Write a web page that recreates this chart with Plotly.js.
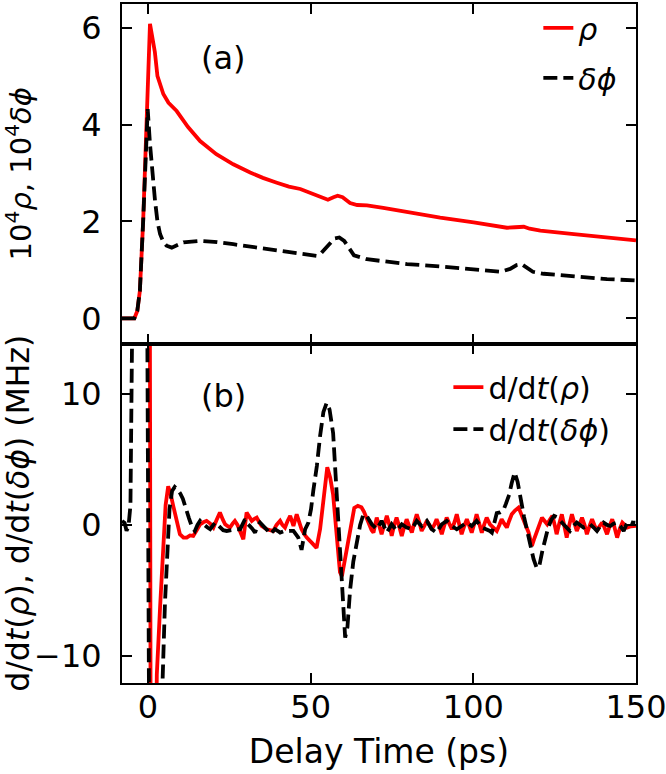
<!DOCTYPE html>
<html>
<head>
<meta charset="utf-8">
<script src="https://cdn.plot.ly/plotly-3.0.1.min.js"></script>
<style>
  body { margin: 0; background: #fff; }
  #myDiv { width: 666px; height: 774px; }
</style>
</head>
<body>
<div id="myDiv"></div>
<script>
// (a) rho and delta-phi, x10^4
let tRho = [-8, -4.2, -3.3, -2.5, -1.5, -0.5, 0.1, 0.6, 1.2, 2.1,
  2.9, 3.7, 4.7, 6.3, 8.8, 12.3, 16, 21, 26.2, 31.4,
  35.3, 39.6, 43.3, 46.8, 50.3, 53.9, 55.3, 57, 58.3, 59.8,
  62.1, 64.3, 67.3, 72.3, 79.6, 89.8, 100.1, 105.3, 110.3, 112.8,
  115.5, 117.3, 120.6, 130.9, 141.1, 150];
let rho = [0, 0, 0.15, 0.57, 2.0, 3.8, 5.2, 6.08, 5.85, 5.5,
  5.0, 4.84, 4.63, 4.45, 4.28, 3.95, 3.66, 3.39, 3.18, 3.01,
  2.9, 2.8, 2.72, 2.67, 2.58, 2.48, 2.45, 2.5, 2.53, 2.5,
  2.38, 2.34, 2.33, 2.28, 2.19, 2.08, 1.98, 1.93, 1.87, 1.88,
  1.89, 1.85, 1.81, 1.74, 1.66, 1.61];

let tPhi = [-8, -4.2, -3.3, -2.5, -1.5, -0.6, -0.1, 0.6, 1.3, 2.15,
  2.9, 3.7, 4.7, 5.7, 7.3, 8.8, 10.9, 16, 20.3, 26.2,
  31.3, 36.5, 41.3, 46.8, 51.9, 53.3, 55.3, 57.3, 58.8, 60.3,
  61.8, 63.3, 67.3, 72.3, 79.6, 89.8, 99.3, 104.3, 108.3, 111.3,
  113.3, 114.8, 116.3, 118.3, 121.6, 130.9, 141.1, 150];
let phi = [0, 0, 0.15, 0.57, 2.0, 3.6, 4.32, 3.6, 3.0, 2.43,
  2.0, 1.74, 1.58, 1.5, 1.46, 1.5, 1.57, 1.6, 1.58, 1.53,
  1.48, 1.43, 1.38, 1.33, 1.29, 1.35, 1.5, 1.65, 1.67, 1.6,
  1.45, 1.3, 1.22, 1.18, 1.12, 1.07, 1.02, 1.0, 0.96, 1.02,
  1.1, 1.12, 1.06, 0.96, 0.92, 0.86, 0.81, 0.78];

// (b) time derivatives (MHz)
let tdRho = [0.4, 0.9, 2.0, 2.7, 3.7, 4.7, 5.4, 6.2, 7.0, 7.8,
  8.8, 9.8, 10.9, 11.9, 12.9, 13.9, 15.0, 16.0, 17.0, 18.0,
  19.1, 20.1, 21.1, 22.1, 23.0, 23.7, 24.5, 25.2, 26.0, 26.7,
  27.5, 28.3, 29.3, 30.3, 31.1, 31.9, 32.6, 33.4, 34.2, 34.9,
  35.7, 36.5, 37.5, 38.5, 39.5, 40.6, 41.3, 42.1, 42.9, 43.7,
  44.7, 45.7, 46.5, 47.2, 48.0, 48.8, 50.3, 51.8, 52.9, 54.0,
  55.1, 56.0, 56.9, 58.0, 59.0, 59.6, 60.5, 61.3, 62.3, 63.4,
  64.5, 65.6, 66.4, 67.2, 68.0, 68.7, 69.3, 70.3, 71.0, 71.8,
  72.6, 73.4, 74.2, 74.9, 75.7, 76.4, 77.2, 78.0, 78.8, 79.5,
  80.3, 81.1, 81.9, 82.6, 83.4, 84.1, 84.9, 85.7, 86.5, 87.2,
  88.0, 88.7, 89.5, 90.3, 91.0, 91.8, 92.6, 93.4, 94.2, 94.9,
  95.7, 96.4, 97.2, 98.0, 98.8, 99.5, 100.3, 101.0, 101.8, 102.6,
  103.3, 104.1, 105.1, 106.2, 107.2, 108.0, 108.7, 109.5, 110.3, 111.0,
  111.8, 112.8, 113.9, 114.6, 115.4, 116.2, 117.0, 118.0, 118.8, 119.6,
  120.3, 121.1, 121.9, 122.7, 123.5, 124.3, 125.0, 125.6, 126.4, 127.2,
  127.9, 128.7, 129.5, 130.3, 131.0, 131.8, 132.6, 133.4, 134.2, 134.9,
  135.7, 136.5, 137.2, 138.0, 138.8, 139.6, 140.3, 141.1, 141.9, 142.7,
  143.4, 144.2, 145.0, 145.8, 146.5, 147.3, 148.5, 150.0];
let dRho = [40, -30, -30, -11.4, -6.3, -1.2, 1.5, 2.95, 2.3, 1.4,
  0.3, -0.71, -0.97, -0.97, -0.8, -0.84, -0.4, 0.05, 0.2, 0.31,
  0.1, -0.2, 0.4, 0.94, 0.4, 0.05, -0.1, -0.2, 0.1, 0.31,
  0.0, -0.46, -1.09, 0.94, 0.6, 0.31, 0.45, 0.56, 0.2, -0.08,
  -0.2, -0.33, -0.4, -0.46, 0.0, 0.31, 0.0, -0.2, 0.3, 0.69,
  -0.08, 0.81, 0.2, -0.33, -0.7, -0.97, -1.35, -1.75, -0.3, 2.3,
  4.4, 3.6, 2.3, -0.8, -3.6, -3.9, -2.6, -1.6, -0.2, 1.3,
  1.45, 1.35, 1.0, 0.5, 0.0, -0.4, -0.59, 0.56, 0.0, -0.71,
  0.0, 0.69, 0.0, -0.84, 0.0, 0.56, -0.1, -0.84, -0.1, 0.43,
  -0.1, -0.59, 0.2, 0.81, 0.2, -0.46, -0.1, 0.31, 0.0, -0.33,
  0.0, 0.43, -0.1, -0.71, -0.1, 0.56, 0.1, -0.33, 0.2, 0.81,
  0.0, -0.71, -0.1, 0.43, -0.1, -0.59, 0.1, 0.81, 0.1, -0.59,
  0.0, 0.56, 0.05, -0.2, -0.46, 0.0, 0.43, 0.1, -0.2, 0.3,
  0.81, 1.1, 1.32, 0.9, 0.31, -0.1, -0.59, -1.6, -1.0, -0.46,
  0.1, 0.56, 0.3, 0.05, 0.4, 0.69, 0.0, -0.71, 0.1, 0.81,
  0.0, -0.97, 0.0, 0.81, 0.2, -0.46, 0.0, 0.56, 0.0, -0.71,
  -0.1, 0.43, 0.0, -0.46, -0.1, 0.18, -0.2, -0.71, -0.1, 0.43,
  -0.2, -0.97, -0.3, 0.18, 0.0, -0.2, -0.1, -0.08];

let tdPhi = [-8, -7.2, -6.6, -6.0, -5.4, -4.8, -4.3, -0.5, 0.6, 3.8,
  4.4, 5.2, 5.9, 6.6, 7.4, 8.2, 9.0, 9.9, 10.7, 11.6,
  12.6, 13.6, 14.4, 15.2, 16.0, 16.8, 17.5, 18.3, 19.1, 19.9,
  20.6, 21.4, 22.1, 23.1, 24.2, 25.2, 26.2, 27.2, 28.3, 29.0,
  29.8, 30.6, 31.4, 32.1, 32.9, 33.6, 34.4, 35.2, 36.0, 36.8,
  37.5, 38.3, 39.0, 39.8, 40.6, 41.6, 42.6, 43.6, 44.7, 45.5,
  46.2, 47.2, 48.3, 49.3, 50.1, 50.8, 51.9, 52.9, 53.9, 54.9,
  55.8, 56.9, 58.0, 59.0, 59.8, 60.6, 61.3, 62.1, 63.1, 64.2,
  65.2, 66.2, 67.2, 68.8, 70.3, 71.8, 73.4, 74.9, 76.4, 78.0,
  79.5, 81.1, 82.6, 84.1, 85.7, 87.2, 88.7, 90.3, 91.8, 93.4,
  94.9, 96.4, 98.0, 99.5, 101.0, 102.6, 104.1, 105.1, 105.7, 106.5,
  107.2, 108.2, 109.2, 110.0, 111.0, 111.8, 112.7, 113.6, 114.7, 115.6,
  116.6, 117.5, 118.5, 119.5, 120.3, 121.2, 122.1, 123.0, 124.0, 124.8,
  125.6, 126.6, 127.7, 128.7, 129.7, 130.7, 131.8, 132.8, 133.9, 134.9,
  135.9, 137.0, 138.0, 139.0, 140.0, 141.1, 142.1, 143.1, 144.1, 145.2,
  146.2, 147.0, 147.7, 148.7, 149.8];
let dPhi = [0.3, 0.15, -0.45, -0.1, 1.5, 8, 30, 30, -30, -30,
  -12.5, -6, -1.5, 1.2, 2.6, 2.9, 2.7, 2.4, 2.0, 1.2,
  0.5, -0.2, -0.46, 0.0, 0.31, 0.1, -0.08, -0.2, -0.33, 0.0,
  0.18, 0.0, -0.2, -0.4, -0.46, -0.4, -0.33, -0.33, -0.33, 0.0,
  0.43, 0.1, -0.08, -0.3, -0.59, -0.1, 0.18, 0.0, -0.2, -0.45,
  -0.71, -0.5, -0.33, -0.45, -0.59, -0.5, -0.46, -0.46, -0.46, -0.7,
  -0.97, -1.9, -0.33, 0.18, 1.2, 2.6, 4.5, 6.8, 8.6, 9.3,
  8.8, 7.0, 2.0, -2.5, -6.0, -8.6, -7.8, -5.0, -2.8, -1.2,
  0.0, 0.8, 0.69, 0.05, -0.33, 0.31, -0.59, 0.05, -0.46, 0.05,
  -0.2, -0.33, 0.31, -0.08, 0.31, -0.33, -0.59, 0.05, 0.31, -0.08,
  -0.33, -0.08, 0.18, -0.08, 0.31, -0.2, -0.33, -0.46, -0.59, 0.3,
  0.9, 0.95, 1.1, 1.6, 2.3, 3.2, 4.0, 3.3, 1.7, 0.6,
  -0.5, -1.5, -2.6, -3.3, -3.1, -2.0, -1.0, -0.2, 0.4, 0.69,
  0.6, 0.3, 0.05, -0.2, -0.46, -0.1, 0.18, 0.0, -0.2, -0.1,
  0.05, -0.2, -0.46, -0.1, 0.18, 0.0, -0.08, 0.1, 0.18, -0.1,
  -0.46, 0.0, 0.31, 0.2, 0.18];

let xTicks = [0, 50, 100, 150];
let yTicksTop = [0, 2, 4, 6];
let yTicksBottom = [-10, 0, 10];

let redLine = { color: "rgb(255, 0, 0)", width: 3.8 };
let blackLine = { color: "black", width: 3.8, dash: "14px,6px" };

let data = [
  { x: tRho, y: rho, xaxis: "x2", yaxis: "y2", mode: "lines", line: redLine,
    name: "<i>ρ</i>", legend: "legend", legendgroup: "a1" },
  { x: tPhi, y: phi, xaxis: "x2", yaxis: "y2", mode: "lines", line: blackLine,
    name: "<i>δϕ</i>", legend: "legend", legendgroup: "a2" },
  { x: tdRho, y: dRho, xaxis: "x", yaxis: "y", mode: "lines", line: redLine,
    name: "d/d<i>t</i>(<i>ρ</i>)", legend: "legend2", legendgroup: "b1" },
  { x: tdPhi, y: dPhi, xaxis: "x", yaxis: "y", mode: "lines", line: blackLine,
    name: "d/d<i>t</i>(<i>δϕ</i>)", legend: "legend2", legendgroup: "b2" }
];

let axisStyle = {
  showline: true, linewidth: 2, linecolor: "black", mirror: "allticks",
  ticks: "inside", ticklen: 10, tickwidth: 2, tickcolor: "black",
  showgrid: false, zeroline: false
};

let layout = {
  width: 666,
  height: 774,
  margin: { l: 122, r: 30, t: 2, b: 91 },
  paper_bgcolor: "white",
  plot_bgcolor: "white",
  font: { family: "DejaVu Sans", size: 32, color: "black" },
  showlegend: true,
  xaxis: Object.assign({}, axisStyle, {
    domain: [0, 1], anchor: "y", range: [-8, 150], tickvals: xTicks,
    ticklabelstandoff: -5, ticklabeloverflow: "allow",
    title: { text: "Delay Time (ps)", font: { size: 33 }, standoff: 14 }
  }),
  xaxis2: Object.assign({}, axisStyle, {
    domain: [0, 1], anchor: "y2", matches: "x", range: [-8, 150],
    tickvals: xTicks, showticklabels: false
  }),
  yaxis: Object.assign({}, axisStyle, {
    domain: [0, 0.5], anchor: "x", range: [-12.06, 13.84], tickvals: yTicksBottom,
    ticklabelstandoff: 12,
    title: { text: "d/d<i>t</i>(<i>ρ</i>), d/d<i>t</i>(<i>δϕ</i>) (MHz)", font: { size: 31.5 }, standoff: 2 }
  }),
  yaxis2: Object.assign({}, axisStyle, {
    domain: [0.5, 1], anchor: "x2", range: [-0.52, 6.49], tickvals: yTicksTop,
    ticklabelstandoff: 12,
    title: { text: "10<sup>4</sup><i>ρ</i>, 10<sup>4</sup><i>δϕ</i>", font: { size: 29 }, standoff: 50 }
  }),
  legend: {
    x: 0.81, xanchor: "left", y: 1.003, yanchor: "top",
    bgcolor: "rgba(0,0,0,0)", font: { size: 30 },
    traceorder: "grouped", tracegroupgap: 8
  },
  legend2: {
    x: 0.635, xanchor: "left", y: 0.474, yanchor: "top",
    bgcolor: "rgba(0,0,0,0)", font: { size: 30 },
    traceorder: "grouped", tracegroupgap: 0
  },
  annotations: [
    { text: "(a)", xref: "x domain", yref: "y2 domain", x: 0.198, y: 0.84,
      xanchor: "center", yanchor: "middle", showarrow: false, font: { size: 32 } },
    { text: "(b)", xref: "x domain", yref: "y domain", x: 0.198, y: 0.845,
      xanchor: "center", yanchor: "middle", showarrow: false, font: { size: 32 } }
  ]
};

Plotly.newPlot("myDiv", data, layout, { staticPlot: true });
</script>
</body>
</html>
